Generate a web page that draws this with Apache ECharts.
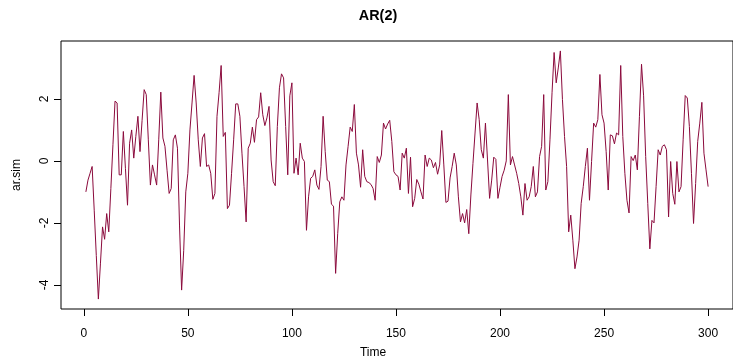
<!DOCTYPE html>
<html>
<head>
<meta charset="utf-8">
<script src="https://cdn.jsdelivr.net/npm/echarts@6/dist/echarts.min.js"></script>
<style>
html,body{margin:0;padding:0;background:#fff;}
#chart{width:733px;height:361px;}
</style>
</head>
<body>
<div id="chart"></div>
<script>
// ---- data ----
var chartTitle = 'AR(2)';
var xName = 'Time';
var yName = 'ar.sim';
var timeTicks = [0, 50, 100, 150, 200, 250, 300];
var yTicks = [-4, -2, 0, 2];
var arSim = [
  -1.00, -0.62, -0.40, -0.18, -1.59, -3.05, -4.46, -3.30, -2.13, -2.53,
  -1.70, -2.29, -0.89,  0.52,  1.93,  1.87, -0.45, -0.45,  0.95, -0.24,
  -1.43,  0.57,  1.00,  0.09,  0.79,  1.44,  0.30,  1.30,  2.30,  2.14,
   0.68, -0.78, -0.13, -0.45, -0.78,  0.68,  2.22,  0.74,  0.47, -0.30,
  -1.05, -0.89,  0.68,  0.84,  0.41, -2.10, -4.17, -2.90, -1.00, -0.40,
   1.00,  1.87,  2.76,  1.87,  0.68, -0.18,  0.74,  0.88, -0.18, -0.13,
  -0.40, -1.24, -1.05,  1.44,  2.20,  3.08,  0.79,  0.92, -1.54, -1.43,
  -0.40,  0.68,  1.84,  1.84,  1.44,  0.25, -0.83, -1.97,  0.41,  0.57,
   1.09,  0.60,  1.33,  1.42,  2.20,  1.49,  1.14,  1.39,  1.76,  0.03,
  -0.67, -0.80,  1.11,  2.36,  2.81,  2.68,  1.11, -0.45,  2.10,  2.52,
  -0.40,  0.09, -0.45,  0.57,  0.09, -0.02, -2.24, -1.16, -0.56, -0.50,
  -0.29, -0.78, -0.92, -0.18,  1.44,  0.30, -0.62, -0.67, -1.40, -1.46,
  -3.63, -2.35, -1.32, -1.16, -1.27, -0.13,  0.47,  1.09,  0.95,  1.82,
   0.25, -0.13, -0.85,  0.36, -0.50, -0.67, -0.70, -0.76, -0.89, -1.27,
   0.14, -0.05,  0.19,  1.22,  1.03,  1.19,  1.31,  0.63, -0.35, -0.45,
  -0.50, -0.94,  0.25,  0.09,  0.41, -1.05,  0.12, -1.48, -1.21, -0.60,
  -0.75, -1.00, -1.23,  0.19, -0.18,  0.09,  0.03, -0.22, -0.05, -0.43,
  -0.13,  0.98, -0.13, -1.34, -1.30, -0.55, -0.18,  0.25, -0.13, -1.16,
  -1.97, -1.70, -2.00, -1.57, -2.35, -1.10, -0.08,  0.90,  1.87,  1.33,
   0.36,  0.09,  1.22,  0.03, -1.21, -0.62,  0.12,  0.05, -1.21, -0.85,
  -0.50, -0.30,  0.00,  2.14, -0.13,  0.14, -0.13, -0.40, -0.73, -1.16,
  -1.75, -0.73, -1.27, -1.16, -0.83, -0.18, -1.16, -1.00,  0.14,  0.47,
   2.14, -0.94, -0.67,  0.68,  2.20,  3.50,  2.52,  3.00,  3.55,  1.98,
   0.79, -0.18, -2.29, -1.75, -2.56, -3.48, -3.10, -2.56, -1.37, -0.83,
  -0.18,  0.41, -1.27, -0.02,  1.22,  1.09,  1.33,  2.79,  1.49,  1.22,
   0.30, -0.94,  0.84,  0.81,  0.55,  0.90,  0.84,  3.08,  0.79, -0.40,
  -1.27, -1.68,  0.14,  0.01,  0.19, -0.29,  1.44,  3.12,  2.10,  0.14,
  -1.37, -2.84, -1.92, -2.00, -0.83,  0.36,  0.19,  0.47,  0.52,  0.36,
  -1.81, -0.02, -1.05, -1.40, -0.02, -1.00, -0.83,  0.68,  2.11,  2.03,
   1.11, -0.40, -2.02, -0.73,  0.63,  1.22,  1.89,  0.25, -0.29, -0.83
];

// ---- build ----
var FONT = "'Liberation Sans', Arial, Helvetica, sans-serif";
var lineColor = '#8b0a3c';
var seriesData = arSim.map(function (v, i) { return [i + 1, v]; });

var n = arSim.length;
var xPad = 0.04 * (n - 1);
var yMinD = Math.min.apply(null, arSim), yMaxD = Math.max.apply(null, arSim);
var yPad = 0.04 * (yMaxD - yMinD);

var chart = echarts.init(document.getElementById('chart'), null, {renderer: 'canvas'});
chart.setOption({
  animation: false,
  backgroundColor: '#ffffff',
  grid: {
    left: 61, top: 41, width: 674, height: 268,
    show: true, borderColor: '#000', borderWidth: 1,
    backgroundColor: 'transparent', containLabel: false
  },
  xAxis: {
    type: 'value',
    position: 'bottom',
    min: 1 - xPad, max: n + xPad,
    axisLine: {show: false, onZero: false},
    splitLine: {show: false},
    axisTick: {show: true, inside: false, length: 7, customValues: timeTicks,
      lineStyle: {color: '#000', width: 1}},
    axisLabel: {show: true, customValues: timeTicks, margin: 19,
      color: '#000', fontSize: 12, fontFamily: FONT}
  },
  yAxis: {
    type: 'value',
    position: 'left',
    min: yMinD - yPad, max: yMaxD + yPad,
    axisLine: {show: false, onZero: false},
    splitLine: {show: false},
    axisTick: {show: true, inside: false, length: 7, customValues: yTicks,
      lineStyle: {color: '#000', width: 1}},
    axisLabel: {show: true, customValues: yTicks, rotate: 90, margin: 10,
      color: '#000', fontSize: 12, fontFamily: FONT}
  },
  series: [{
    type: 'line',
    data: seriesData,
    showSymbol: false,
    symbol: 'none',
    lineStyle: {color: lineColor, width: 1},
    itemStyle: {color: lineColor},
    silent: true
  }],
  graphic: [
    {type: 'text', x: 378, y: 16, silent: true,
      style: {text: chartTitle, font: 'bold 14.4px ' + FONT, fill: '#000',
        align: 'center', verticalAlign: 'middle', textAlign: 'center', textVerticalAlign: 'middle'}},
    {type: 'text', x: 373, y: 353, silent: true,
      style: {text: xName, font: '12px ' + FONT, fill: '#000',
        align: 'center', verticalAlign: 'middle', textAlign: 'center', textVerticalAlign: 'middle'}},
    {type: 'text', x: 17, y: 175, rotation: Math.PI / 2, silent: true,
      style: {text: yName, font: '12px ' + FONT, fill: '#000',
        align: 'center', verticalAlign: 'middle', textAlign: 'center', textVerticalAlign: 'middle'}}
  ]
});
</script>
</body>
</html>
